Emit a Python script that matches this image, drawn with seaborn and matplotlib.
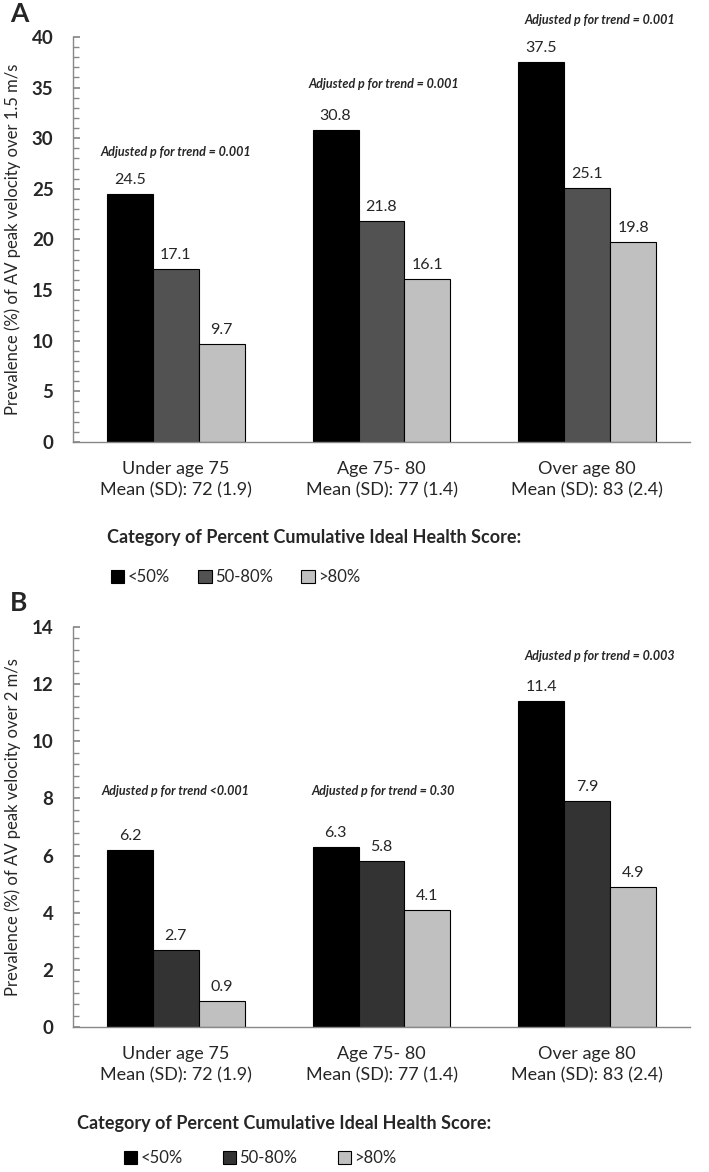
import matplotlib
matplotlib.use("Agg")
import matplotlib.pyplot as plt
from matplotlib.ticker import MultipleLocator
from matplotlib.patches import Patch
import seaborn as sns
import pandas as pd

# ---- data ----
age_groups = ["Under age 75\nMean (SD): 72 (1.9)",
              "Age 75- 80\nMean (SD): 77 (1.4)",
              "Over age 80\nMean (SD): 83 (2.4)"]
categories = ["<50%", "50-80%", ">80%"]
vals_a = {"<50%": [24.5, 30.8, 37.5], "50-80%": [17.1, 21.8, 25.1], ">80%": [9.7, 16.1, 19.8]}
vals_b = {"<50%": [6.2, 6.3, 11.4], "50-80%": [2.7, 5.8, 7.9], ">80%": [0.9, 4.1, 4.9]}
trend_a = ["Adjusted p for trend = 0.001", "Adjusted p for trend = 0.001", "Adjusted p for trend = 0.001"]
trend_b = ["Adjusted p for trend <0.001", "Adjusted p for trend = 0.30", "Adjusted p for trend = 0.003"]
ylabel_a = "Prevalence (%) of AV peak velocity over 1.5 m/s"
ylabel_b = "Prevalence (%) of AV peak velocity over 2 m/s"
legend_title = "Category of Percent Cumulative Ideal Health Score:"

sns.set_theme(style="white")
FONT = ["Lato", "DejaVu Sans"]
plt.rcParams["font.family"] = FONT


def long_df(vals):
    rows = []
    for c in categories:
        for g, v in zip(age_groups, vals[c]):
            rows.append({"age": g, "cat": c, "val": v})
    return pd.DataFrame(rows)


fig = plt.figure(figsize=(7.09, 11.72), dpi=100)
W, H = 709, 1172


def make_axes(top_px, bottom_px):
    return fig.add_axes([73 / W, 1 - bottom_px / H, (690 - 73) / W, (bottom_px - top_px) / H])


def draw_panel(ax, vals, palette, ymax, major, minor, trends, trend_y, ylabel):
    df = long_df(vals)
    sns.barplot(data=df, x="age", y="val", hue="cat", hue_order=categories,
                order=age_groups, palette=palette, edgecolor="black",
                linewidth=0.8, width=0.67, gap=0, ax=ax, legend=False, errorbar=None)
    ax.set_xlim(-0.5, 2.5)
    ax.set_ylim(0, ymax)
    ax.yaxis.set_major_locator(MultipleLocator(major))
    ax.yaxis.set_minor_locator(MultipleLocator(minor))
    for s in ["top", "right"]:
        ax.spines[s].set_visible(False)
    for s in ["left", "bottom"]:
        ax.spines[s].set_color("#888888")
        ax.spines[s].set_linewidth(1.0)
    ax.tick_params(axis="y", which="major", direction="in", length=5, color="#888888",
                   left=True, labelsize=13.5, pad=14)
    ax.tick_params(axis="y", which="minor", direction="in", length=4, color="#888888", left=True)
    ax.tick_params(axis="x", length=0, labelsize=13, pad=14)
    for lab in ax.get_yticklabels():
        lab.set_fontweight("bold")
    for lab in ax.get_xticklabels():
        lab.set_linespacing(1.4)
    ax.set_xlabel("")
    ax.set_ylabel(ylabel, fontsize=12)
    for cont in ax.containers:
        ax.bar_label(cont, fmt="%.1f", padding=5, fontsize=11.5)
    offsets = [0.0, 0.01, 0.06]
    for i, (t, y) in enumerate(zip(trends, trend_y)):
        ax.text(i + offsets[i], y, t, ha="center", va="center", fontsize=9,
                fontweight="bold", fontstyle="italic", clip_on=False)


# Panel A
axA = make_axes(37, 442)
draw_panel(axA, vals_a, ["#000000", "#525252", "#c0c0c0"], 40, 5, 1,
           trend_a, [28.6, 35.4, 41.7], ylabel_a)
axA.yaxis.set_label_coords(-0.085, 0.5)
fig.text(10 / W, 1 - 14 / H, "A", fontsize=19, fontweight="bold", va="center", ha="left")
fig.text(107 / W, 1 - 537 / H, legend_title, fontsize=13, fontweight="bold", va="center", ha="left")
handlesA = [Patch(facecolor=c, edgecolor="black", linewidth=0.8) for c in ["#000000", "#525252", "#c0c0c0"]]
fig.legend(handlesA, categories, loc="center left", bbox_to_anchor=(96 / W, 1 - 577 / H),
           ncol=3, frameon=False, fontsize=12, handlelength=0.8, handleheight=0.8,
           handletextpad=0.2, columnspacing=1.7)

# Panel B
axB = make_axes(627, 1027)
draw_panel(axB, vals_b, ["#000000", "#333333", "#c0c0c0"], 14, 2, 0.4,
           trend_b, [8.25, 8.25, 13.0], ylabel_b)
axB.yaxis.set_label_coords(-0.085, 0.5)
fig.text(10 / W, 1 - 603 / H, "B", fontsize=19, fontweight="bold", va="center", ha="left")
fig.text(77 / W, 1 - 1123 / H, legend_title, fontsize=13, fontweight="bold", va="center", ha="left")
handlesB = [Patch(facecolor=c, edgecolor="black", linewidth=0.8) for c in ["#000000", "#333333", "#c0c0c0"]]
fig.legend(handlesB, categories, loc="center left", bbox_to_anchor=(109 / W, 1 - 1158 / H),
           ncol=3, frameon=False, fontsize=12, handlelength=0.8, handleheight=0.8,
           handletextpad=0.2, columnspacing=2.4)

fig.savefig("out.png", dpi=100)
